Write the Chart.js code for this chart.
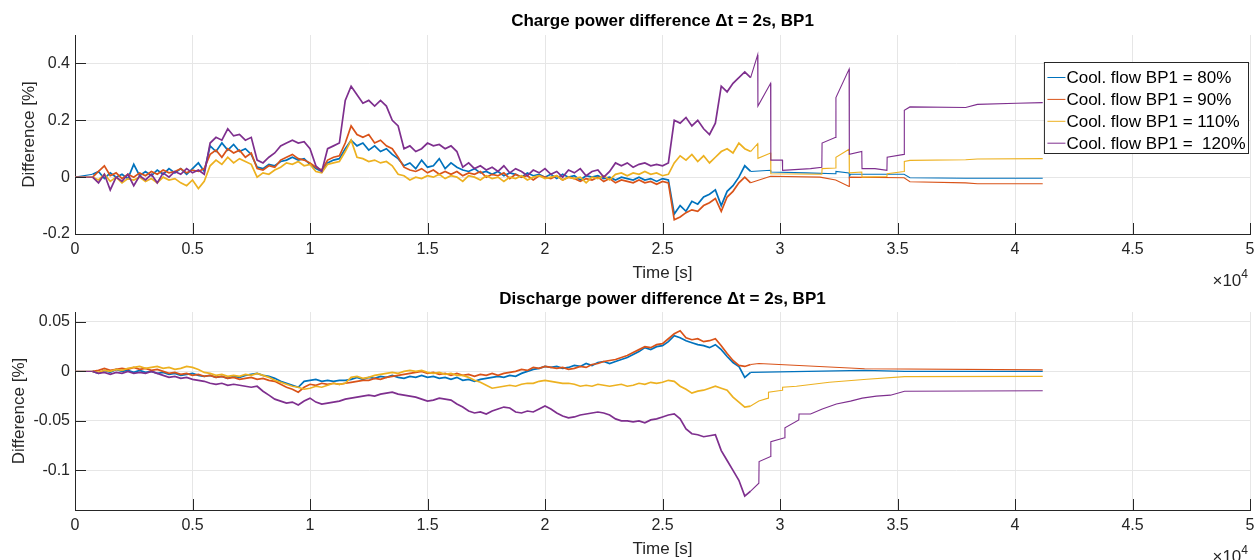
<!DOCTYPE html>
<html>
<head>
<meta charset="utf-8">
<script src="https://cdn.jsdelivr.net/npm/chart.js@4.4.1/dist/chart.umd.min.js"></script>
<style>
  body { margin: 0; background: #fff; }
  #wrap { position: relative; width: 1254px; height: 560px; }
  canvas { position: absolute; left: 0; }
</style>
</head>
<body>
<div id="wrap">
  <canvas id="chargeChart" width="1254" height="290" style="top:0"></canvas>
  <canvas id="dischargeChart" width="1254" height="280" style="top:280px"></canvas>
</div>
<script>
// logged samples: one value every GRID_STEP seconds starting at GRID_START
const GRID_START = 750;
const GRID_STEP = 250;
const NOISY_END = 28800;   // after this only sparse samples remain

const seriesLabels = ['Cool. flow BP1 = 80%', 'Cool. flow BP1 = 90%', 'Cool. flow BP1 = 110%', 'Cool. flow BP1 =  120%'];
const seriesColors = ['#0072BD', '#D95319', '#EDB120', '#7E2F8E'];

const xTickValues = [0, 5000, 10000, 15000, 20000, 25000, 30000, 35000, 40000, 45000, 50000];
const chargeYTicks = [-0.2, 0, 0.2, 0.4];
const dischargeYTicks = [-0.1, -0.05, 0, 0.05];

// ---- charge power difference [%] ----
const charge80 = [
  0.01, 0.02, -0.005, 0.015, 0.0, 0.01, -0.005, 0.045, 0.005, 0.02,
  0.005, 0.025, 0.01, 0.03, 0.015, 0.03, 0.01, 0.03, 0.05, 0.02,
  0.11, 0.09, 0.12, 0.095, 0.115, 0.09, 0.1, 0.08, 0.035, 0.03,
  0.045, 0.04, 0.055, 0.06, 0.07, 0.06, 0.065, 0.045, 0.03, 0.02,
  0.05, 0.06, 0.065, 0.1, 0.13, 0.11, 0.12, 0.095, 0.11, 0.09,
  0.1, 0.08, 0.065, 0.04, 0.05, 0.03, 0.06, 0.035, 0.04, 0.065,
  0.03, 0.05, 0.035, 0.025, 0.02, 0.03, 0.015, 0.02, 0.01, 0.02,
  0.005, 0.015, 0.01, 0.0, 0.015, 0.005, 0.01, 0.0, 0.01, -0.005,
  0.01, 0.0, 0.005, -0.01, 0.005, 0.0, 0.005, -0.005, 0.0, -0.01,
  0.0, -0.005, -0.01, 0.0, -0.01, -0.005, -0.015, -0.005, -0.01, -0.13,
  -0.1, -0.12, -0.085, -0.095, -0.07, -0.06, -0.045, -0.1, -0.05, -0.03,
  0.0, 0.04, 0.02
];
const charge80Tail = [[29600, 0.024], [29610, 0.018], [31100, 0.015], [32370, 0.012], [32380, 0.02], [32940, 0.015],
  [32950, 0.002], [33000, 0.01], [35280, 0.01], [35530, -0.002], [37900, -0.004], [41180, -0.004]];

const charge90 = [
  0.0, 0.02, 0.04, 0.005, 0.015, -0.005, 0.01, 0.0, 0.015, 0.005,
  0.02, 0.01, 0.025, 0.015, 0.02, 0.03, 0.015, 0.025, 0.02, 0.03,
  0.08, 0.095, 0.07, 0.1, 0.085, 0.095, 0.07, 0.085, 0.03, 0.025,
  0.04, 0.035, 0.06, 0.07, 0.08, 0.065, 0.06, 0.05, 0.035, 0.025,
  0.06, 0.07, 0.075, 0.12, 0.18, 0.15, 0.14, 0.15, 0.12, 0.13,
  0.11, 0.1, 0.07, 0.035, 0.025, 0.02, 0.03, 0.015, 0.025, 0.01,
  0.02, 0.01, 0.02, 0.005, 0.015, 0.01, 0.02, 0.0, 0.01, 0.005,
  0.015, -0.005, 0.01, 0.0, 0.005, -0.01, 0.005, 0.0, -0.005, 0.005,
  -0.01, 0.0, -0.005, -0.015, -0.005, -0.01, 0.0, -0.015, -0.005, -0.02,
  -0.01, -0.015, -0.02, -0.01, -0.02, -0.015, -0.025, -0.015, -0.02, -0.15,
  -0.14, -0.125, -0.115, -0.12, -0.1, -0.09, -0.075, -0.12, -0.07, -0.05,
  -0.02, 0.0, -0.02
];
const charge90Tail = [[29600, 0.003], [31700, 0.0], [32370, -0.01], [32940, -0.033], [32950, 0.0], [35280, -0.002],
  [35530, -0.016], [37900, -0.02], [38400, -0.023], [41180, -0.023]];

const charge110 = [
  0.0, -0.01, 0.01, -0.015, 0.0, -0.02, -0.005, -0.01, 0.0, -0.015,
  -0.005, -0.02, 0.0, -0.01, -0.005, -0.02, -0.03, -0.01, -0.04, -0.015,
  0.04, 0.06, 0.045, 0.07, 0.05, 0.065, 0.055, 0.045, 0.0, 0.015,
  0.01, 0.025, 0.035, 0.05, 0.045, 0.055, 0.04, 0.045, 0.02, 0.015,
  0.045, 0.05, 0.055, 0.09, 0.13, 0.07, 0.065, 0.055, 0.06, 0.05,
  0.055, 0.04, 0.01, 0.005, -0.01, 0.0, -0.005, 0.005, 0.0, 0.01,
  -0.005, 0.005, 0.0, -0.015, 0.005, 0.0, -0.01, 0.005, -0.005, 0.0,
  -0.015, 0.0, -0.005, 0.005, -0.01, 0.0, 0.005, -0.005, 0.0, 0.005,
  -0.01, 0.0, -0.005, 0.0, -0.02, 0.0, -0.005, 0.005, -0.01, 0.01,
  0.015, 0.005, 0.015, 0.01, 0.02, 0.01, 0.015, 0.005, 0.01, 0.05,
  0.075, 0.06, 0.08, 0.055, 0.075, 0.05, 0.07, 0.09, 0.1, 0.085,
  0.12, 0.1, 0.09
];
const charge110Tail = [[29050, 0.118], [29060, 0.066], [29600, 0.085], [29610, 0.012], [31780, 0.01], [31790, 0.03],
  [32370, 0.032], [32380, 0.07], [32940, 0.098], [32950, 0.015], [33480, 0.018], [33490, 0.0], [34550, 0.002],
  [34560, 0.012], [35280, 0.02], [35290, 0.055], [35530, 0.059], [37900, 0.061], [38400, 0.064], [41180, 0.065]];

const charge120 = [
  0.0, -0.02, 0.01, -0.045, 0.0, -0.015, 0.01, -0.03, 0.005, -0.01,
  0.01, -0.02, 0.015, 0.0, 0.02, 0.01, 0.03, 0.015, 0.025, 0.01,
  0.12, 0.14, 0.13, 0.17, 0.145, 0.15, 0.13, 0.14, 0.06, 0.05,
  0.07, 0.085, 0.11, 0.12, 0.13, 0.12, 0.125, 0.1, 0.04, 0.02,
  0.1, 0.11, 0.12, 0.27, 0.32, 0.29, 0.26, 0.27, 0.25, 0.27,
  0.25, 0.2, 0.18, 0.1, 0.11, 0.09, 0.1, 0.12, 0.11, 0.115,
  0.1, 0.11, 0.09, 0.035, 0.05, 0.03, 0.04, 0.025, 0.035, 0.02,
  0.04, 0.015, 0.03, 0.02, 0.005, 0.025, 0.015, 0.03, 0.01, 0.02,
  0.0, 0.025, 0.015, 0.03, 0.005, 0.02, 0.025, 0.0, 0.02, 0.05,
  0.04, 0.05, 0.035, 0.045, 0.05, 0.04, 0.045, 0.04, 0.05, 0.2,
  0.19, 0.21, 0.18, 0.2, 0.17, 0.15, 0.19, 0.32, 0.3, 0.33,
  0.35, 0.37, 0.35
];
const charge120Tail = [[29050, 0.43], [29060, 0.25], [29600, 0.33], [29610, 0.06], [30100, 0.06], [30110, 0.024],
  [31300, 0.03], [31780, 0.035], [31790, 0.12], [32370, 0.14], [32380, 0.28], [32940, 0.38], [32950, 0.08],
  [33480, 0.09], [33490, 0.03], [34040, 0.03], [34550, 0.024], [34560, 0.07], [35280, 0.08], [35290, 0.235],
  [35530, 0.247], [37900, 0.245], [38400, 0.256], [40070, 0.26], [41180, 0.262]];

// ---- discharge power difference [%] ----
const discharge80 = [
  0.0, -0.002, 0.001, -0.001, 0.002, 0.0, 0.001, -0.001, 0.001, -0.001,
  0.0, -0.002, -0.001, -0.003, -0.002, -0.004, -0.003, -0.002, -0.004, -0.005,
  -0.004, -0.006, -0.005, -0.007, -0.005, -0.006, -0.004, -0.003, -0.002, -0.004,
  -0.005, -0.007, -0.01, -0.012, -0.014, -0.016, -0.01, -0.009, -0.008, -0.01,
  -0.009, -0.01, -0.009, -0.009, -0.008, -0.006, -0.008, -0.006, -0.007, -0.005,
  -0.006, -0.004, -0.006, -0.007, -0.005, -0.006, -0.004, -0.006, -0.005, -0.007,
  -0.006, -0.008, -0.006, -0.009, -0.008, -0.01, -0.008, -0.007, -0.006, -0.005,
  -0.006, -0.004, -0.005, -0.002, 0.0, 0.002, 0.003, 0.005, 0.004, 0.005,
  0.003, 0.004, 0.006, 0.005, 0.008, 0.006, 0.009, 0.01, 0.008, 0.01,
  0.012, 0.014, 0.017, 0.02, 0.024, 0.022, 0.025, 0.026, 0.03, 0.036,
  0.034, 0.031, 0.029, 0.027, 0.026, 0.024, 0.027, 0.022, 0.015, 0.009,
  0.005, -0.006, -0.001
];
const discharge80Tail = [[33600, 0.001], [35300, 0.0], [41180, 0.0]];

const discharge90 = [
  0.0, 0.001, 0.003, 0.001, 0.002, 0.003, 0.002, 0.004, 0.002, 0.003,
  0.001, 0.002, 0.0, -0.002, -0.001, -0.003, -0.002, -0.004, -0.003, -0.005,
  -0.004, -0.006, -0.005, -0.007, -0.006, -0.008, -0.007, -0.006, -0.008, -0.007,
  -0.009, -0.01, -0.013, -0.016, -0.018, -0.021, -0.016, -0.013, -0.014, -0.012,
  -0.013, -0.012, -0.013, -0.012, -0.011, -0.01, -0.009, -0.009, -0.007, -0.008,
  -0.006, -0.005, -0.004, -0.003, -0.002, -0.001, 0.0, -0.002, -0.001, -0.003,
  -0.002, -0.004, -0.002, -0.004, -0.003, -0.005, -0.003, -0.004, -0.002, -0.004,
  -0.002, -0.001, 0.0, 0.002, 0.001, 0.004, 0.003, 0.005, 0.004, 0.003,
  0.004, 0.002, 0.003, 0.005, 0.004, 0.007, 0.008, 0.01, 0.011, 0.012,
  0.014, 0.016, 0.019, 0.022, 0.025, 0.024, 0.027, 0.028, 0.033, 0.038,
  0.041, 0.034, 0.032, 0.033, 0.03, 0.031, 0.033, 0.026, 0.018, 0.011,
  0.006, 0.005, 0.007
];
const discharge90Tail = [[29100, 0.008], [33600, 0.0027], [41180, 0.0015]];

const discharge110 = [
  0.0, -0.001, 0.001, 0.0, 0.002, 0.001, 0.003, 0.004, 0.005, 0.003,
  0.004, 0.005, 0.003, 0.004, 0.002, 0.003, 0.005, 0.004, 0.002, -0.001,
  -0.002, -0.004, -0.003, -0.005, -0.004, -0.005, -0.003, -0.004, -0.002, -0.004,
  -0.006, -0.009, -0.011, -0.013, -0.015, -0.016, -0.018, -0.017, -0.015, -0.016,
  -0.014, -0.012, -0.013, -0.012, -0.006, -0.005, -0.007, -0.006, -0.004, -0.003,
  -0.002, -0.001, -0.002, 0.0, 0.001, 0.0, 0.001, -0.001, -0.002, -0.001,
  -0.003, -0.002, -0.004, -0.004, -0.006, -0.009, -0.011, -0.014, -0.017, -0.016,
  -0.015, -0.014, -0.015, -0.013, -0.012, -0.012, -0.01, -0.009, -0.01, -0.011,
  -0.012, -0.012, -0.013, -0.015, -0.014, -0.015, -0.013, -0.014, -0.015, -0.014,
  -0.013, -0.015, -0.014, -0.012, -0.013, -0.011, -0.012, -0.011, -0.009, -0.01,
  -0.015, -0.018, -0.022, -0.02, -0.019, -0.017, -0.015, -0.017, -0.019, -0.026,
  -0.031, -0.036, -0.035
];
const discharge110Tail = [[29100, -0.03], [29500, -0.027], [29510, -0.021], [30100, -0.019], [30110, -0.016],
  [30700, -0.015], [32100, -0.011], [33700, -0.008], [35300, -0.0053], [41180, -0.005]];

const discharge120 = [
  0.0, -0.002, -0.001, -0.003, -0.001, -0.002, 0.0, -0.002, -0.001, -0.002,
  0.0, -0.002, -0.004, -0.006, -0.005, -0.007, -0.006, -0.008, -0.009, -0.01,
  -0.012, -0.013, -0.012, -0.014, -0.013, -0.014, -0.015, -0.016, -0.015, -0.02,
  -0.024, -0.028, -0.03, -0.032, -0.031, -0.034, -0.03, -0.027, -0.031, -0.033,
  -0.032, -0.031, -0.03, -0.028, -0.027, -0.026, -0.025, -0.024, -0.025, -0.023,
  -0.022, -0.021, -0.023, -0.024, -0.025, -0.026, -0.028, -0.03, -0.029, -0.027,
  -0.028, -0.029, -0.033, -0.036, -0.04, -0.042, -0.041, -0.043, -0.04, -0.038,
  -0.036, -0.037, -0.041, -0.042, -0.04, -0.041, -0.038, -0.035, -0.038, -0.042,
  -0.045, -0.047, -0.046, -0.044, -0.043, -0.042, -0.041, -0.042, -0.044, -0.048,
  -0.05, -0.05, -0.051, -0.05, -0.052, -0.049, -0.048, -0.046, -0.044, -0.043,
  -0.048, -0.058, -0.063, -0.064, -0.066, -0.065, -0.064, -0.08, -0.09, -0.1,
  -0.11, -0.126, -0.121
];
const discharge120Tail = [[29100, -0.113], [29110, -0.091], [29600, -0.086], [29610, -0.071], [30200, -0.067],
  [30210, -0.057], [30800, -0.049], [30810, -0.043], [31300, -0.043], [31800, -0.038], [32400, -0.033],
  [33000, -0.03], [33500, -0.027], [34100, -0.025], [34700, -0.024], [35300, -0.02], [41180, -0.0195]];

const FONT = "'Liberation Sans', Arial, Helvetica, sans-serif";
const AXIS_COLOR = '#262626';
const GRID_COLOR = '#e6e6e6';

function buildPoints(values, tail) {
  const pts = [{ x: 0, y: 0 }];
  values.forEach((v, i) => pts.push({ x: GRID_START + i * GRID_STEP, y: v }));
  tail.forEach(([t, v]) => pts.push({ x: t, y: v }));
  return pts;
}

function makeDatasets(seriesList) {
  return seriesList.map(([values, tail], i) => ({
    label: seriesLabels[i],
    data: buildPoints(values, tail),
    borderColor: seriesColors[i],
    backgroundColor: seriesColors[i],
    borderWidth: 1.1,
    // the densely sampled part looks heavier in the original
    segment: { borderWidth: ctx => (ctx.p1.parsed.x <= NOISY_END && ctx.p0.parsed.x > 0 ? 1.7 : 1.1) },
    pointRadius: 0,
    tension: 0,
    fill: false,
    order: seriesList.length - i   // later series on top, like matlab
  }));
}

// matlab style ticks pointing into the axes
const innerTicks = {
  id: 'innerTicks',
  afterDraw(chart) {
    const { ctx, chartArea, scales } = chart;
    ctx.save();
    ctx.strokeStyle = AXIS_COLOR;
    ctx.lineWidth = 1;
    ctx.beginPath();
    scales.x.ticks.forEach(t => {
      const px = Math.round(scales.x.getPixelForValue(t.value)) + 0.5;
      ctx.moveTo(px, chartArea.bottom);
      ctx.lineTo(px, chartArea.bottom - 11);
    });
    scales.y.ticks.forEach(t => {
      const py = Math.round(scales.y.getPixelForValue(t.value)) + 0.5;
      ctx.moveTo(chartArea.left, py);
      ctx.lineTo(chartArea.left + 11, py);
    });
    ctx.stroke();
    ctx.restore();
  }
};

// x10^4 exponent under the right end of the x axis
const xExponent = {
  id: 'xExponent',
  afterDraw(chart) {
    const { ctx, chartArea } = chart;
    ctx.save();
    ctx.fillStyle = AXIS_COLOR;
    ctx.textAlign = 'right';
    ctx.textBaseline = 'alphabetic';
    const right = chartArea.right - 2;
    ctx.font = `12px ${FONT}`;
    const supW = ctx.measureText('4').width;
    ctx.fillText('4', right, chartArea.bottom + 44);
    ctx.font = `17px ${FONT}`;
    ctx.fillText('\u00d710', right - supW, chartArea.bottom + 52);
    ctx.restore();
  }
};

// boxed legend inside the upper right corner
const insetLegend = {
  id: 'insetLegend',
  afterDraw(chart) {
    const { ctx, chartArea } = chart;
    const sets = chart.data.datasets;
    ctx.save();
    ctx.font = `17px ${FONT}`;
    const textW = Math.max(...sets.map(d => ctx.measureText(d.label).width));
    const w = 3 + 18 + 1 + textW + 3;
    const right = chartArea.right - 1.5;
    const left = right - w;
    const top = chartArea.top + 27.5;
    const h = 91;
    ctx.fillStyle = '#fff';
    ctx.fillRect(left, top, w, h);
    ctx.strokeStyle = AXIS_COLOR;
    ctx.lineWidth = 1;
    ctx.strokeRect(left, top, w, h);
    ctx.textAlign = 'left';
    ctx.textBaseline = 'middle';
    sets.forEach((d, i) => {
      const y = top + 15 + i * 21.9;
      ctx.strokeStyle = d.borderColor;
      ctx.beginPath();
      ctx.moveTo(left + 3, y);
      ctx.lineTo(left + 21, y);
      ctx.stroke();
      ctx.fillStyle = '#000';
      ctx.fillText(d.label, left + 22, y + 1);
    });
    ctx.restore();
  }
};

function makeOptions(cfg) {
  return {
    responsive: false,
    animation: false,
    layout: { padding: { left: 0, right: 4, top: 0, bottom: 0 } },
    plugins: {
      legend: { display: false },
      tooltip: { enabled: false },
      title: {
        display: true,
        fullSize: false,
        text: cfg.title,
        color: '#000',
        font: { family: FONT, size: 17, weight: 'bold', lineHeight: 1.2 },
        padding: cfg.titlePadding
      }
    },
    scales: {
      x: {
        type: 'linear',
        min: 0,
        max: 50000,
        afterBuildTicks(scale) {
          scale.ticks = xTickValues.map(v => ({ value: v }));
        },
        ticks: {
          padding: 6,
          color: AXIS_COLOR,
          font: { family: FONT, size: 16 },
          callback: v => String(v / 10000)
        },
        grid: { color: GRID_COLOR, drawTicks: false },
        border: { display: true, color: AXIS_COLOR, width: 1 },
        title: {
          display: true,
          text: 'Time [s]',
          color: AXIS_COLOR,
          font: { family: FONT, size: 17, lineHeight: 1.2 },
          padding: { top: 0, bottom: cfg.xTitlePad }
        },
        afterFit(scale) {
          scale.height = cfg.xHeight;
          scale.paddingLeft = 0;
          scale.paddingRight = 0;
        }
      },
      y: {
        min: cfg.yMin,
        max: cfg.yMax,
        afterBuildTicks(scale) {
          scale.ticks = cfg.yTicks.map(v => ({ value: v }));
        },
        ticks: {
          padding: 5,
          color: AXIS_COLOR,
          font: { family: FONT, size: 16 },
          callback: v => String(+v.toFixed(4))
        },
        grid: { color: GRID_COLOR, drawTicks: false },
        border: { display: true, color: AXIS_COLOR, width: 1 },
        title: {
          display: true,
          text: 'Difference [%]',
          color: AXIS_COLOR,
          font: { family: FONT, size: 17, lineHeight: 1.2 },
          padding: { top: cfg.yTitlePad, bottom: 0 }
        },
        afterFit(scale) {
          scale.width = 75;
          scale.paddingTop = 0;
          scale.paddingBottom = 0;
        }
      }
    }
  };
}

new Chart(document.getElementById('chargeChart'), {
  type: 'line',
  data: {
    datasets: makeDatasets([
      [charge80, charge80Tail],
      [charge90, charge90Tail],
      [charge110, charge110Tail],
      [charge120, charge120Tail]
    ])
  },
  options: makeOptions({
    title: 'Charge power difference \u0394t = 2s, BP1',
    titlePadding: { top: 11, bottom: 3.6 },
    xHeight: 56,
    xTitlePad: 6.8,
    yTitlePad: 18.8,
    yMin: -0.2,
    yMax: 0.5,
    yTicks: chargeYTicks
  }),
  plugins: [innerTicks, xExponent, insetLegend]
});

new Chart(document.getElementById('dischargeChart'), {
  type: 'line',
  data: {
    datasets: makeDatasets([
      [discharge80, discharge80Tail],
      [discharge90, discharge90Tail],
      [discharge110, discharge110Tail],
      [discharge120, discharge120Tail]
    ])
  },
  options: makeOptions({
    title: 'Discharge power difference \u0394t = 2s, BP1',
    titlePadding: { top: 9, bottom: 2.6 },
    xHeight: 50,
    xTitlePad: 0,
    yTitlePad: 8.8,
    yMin: -0.14,
    yMax: 0.06,
    yTicks: dischargeYTicks
  }),
  plugins: [innerTicks, xExponent]
});
</script>
</body>
</html>
